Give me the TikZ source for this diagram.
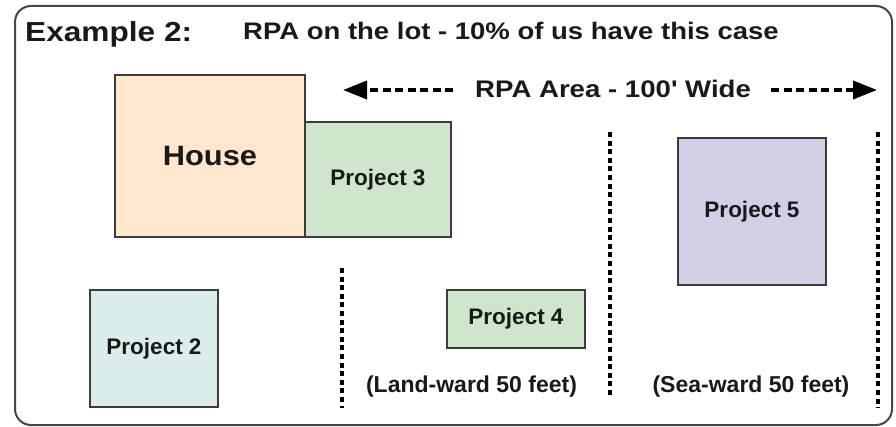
\documentclass[tikz,border=0pt]{standalone}
\usepackage{fontspec}
\setmainfont{Liberation Sans}
\newfontfamily\widefont[FakeStretch=1.15]{Liberation Sans}
\newfontfamily\housefont[FakeStretch=1.1]{Liberation Sans}
\usetikzlibrary{arrows.meta}
\definecolor{houseFill}{RGB}{255,230,205}
\definecolor{greenFill}{RGB}{207,230,205}
\definecolor{cyanFill}{RGB}{218,237,236}
\definecolor{purpleFill}{RGB}{207,207,230}
\definecolor{boxLine}{RGB}{60,60,60}
\definecolor{frameLine}{RGB}{70,70,70}
\definecolor{txt}{RGB}{25,25,25}
\tikzset{
  projbox/.style={draw=boxLine, line width=1.8pt, inner sep=0pt, text=txt,
    font=\fontsize{22.5}{26}\selectfont\bfseries},
  wlabel/.style={inner sep=0pt, text=txt, font=\fontsize{23}{27}\selectfont\bfseries},
  rpaarrow/.style={line width=3.5pt, dash pattern=on 8pt off 4.5pt,
    -{Triangle[length=24pt,width=18pt]}},
  dotline/.style={line width=4pt, dash pattern=on 5pt off 3.6pt}
}
\begin{document}
\begin{tikzpicture}[x=1pt,y=-1pt]
\useasboundingbox (0,0) rectangle (896,427);
% outer frame
\draw[frameLine, line width=2pt, rounded corners=16pt] (15,6) rectangle (892,425);
% titles
\node[anchor=base west, inner sep=0pt, text=txt, font=\fontsize{27.5}{32}\selectfont\widefont\bfseries] (title) at (25,42) {Example 2:};
\node[anchor=base west, inner sep=0pt, text=txt, font=\fontsize{23.9}{28}\selectfont\widefont\bfseries] (subtitle) at (243,40) {RPA on the lot - 10\% of us have this case};
\node[anchor=base west, inner sep=0pt, text=txt, font=\fontsize{24}{28}\selectfont\widefont\bfseries] (rpa) at (475,98) {RPA Area - 100' Wide};
\coordinate (arrL) at (343,90);
\coordinate (arrR) at (877,90);
\draw[rpaarrow, shorten <=22pt] (rpa.west |- arrL) -- (arrL);
\draw[rpaarrow, shorten <=20pt] (rpa.east |- arrR) -- (arrR);
% boxes
\node[projbox, fill=houseFill, minimum width=190pt, minimum height=162pt,
  font=\fontsize{28}{32}\selectfont\housefont\bfseries] (house) at (210,156) {House};
\node[projbox, fill=greenFill, minimum width=146pt, minimum height=115pt] (p3) at (378,179.5) {Project 3};
\node[projbox, fill=cyanFill, minimum width=128pt, minimum height=117pt] (p2) at (154,348.5) {Project 2};
\node[projbox, fill=greenFill, minimum width=138pt, minimum height=58pt] (p4) at (516,319) {Project 4};
\node[projbox, fill=purpleFill, minimum width=148pt, minimum height=147pt] (p5) at (752,211.5) {Project 5};
% dotted separators
\coordinate (d1t) at (342,268); \coordinate (d1b) at (342,408);
\coordinate (d2t) at (610,132); \coordinate (d2b) at (610,398);
\coordinate (d3t) at (878,132); \coordinate (d3b) at (878,408);
\draw[dotline] (d1t) -- (d1b);
\draw[dotline] (d2t) -- (d2b);
\draw[dotline] (d3t) -- (d3b);
% zone labels
\node[wlabel, anchor=base] (land) at (471.5,392) {(Land-ward 50 feet)};
\node[wlabel, anchor=base] (sea) at (751,392) {(Sea-ward 50 feet)};
\end{tikzpicture}
\end{document}
